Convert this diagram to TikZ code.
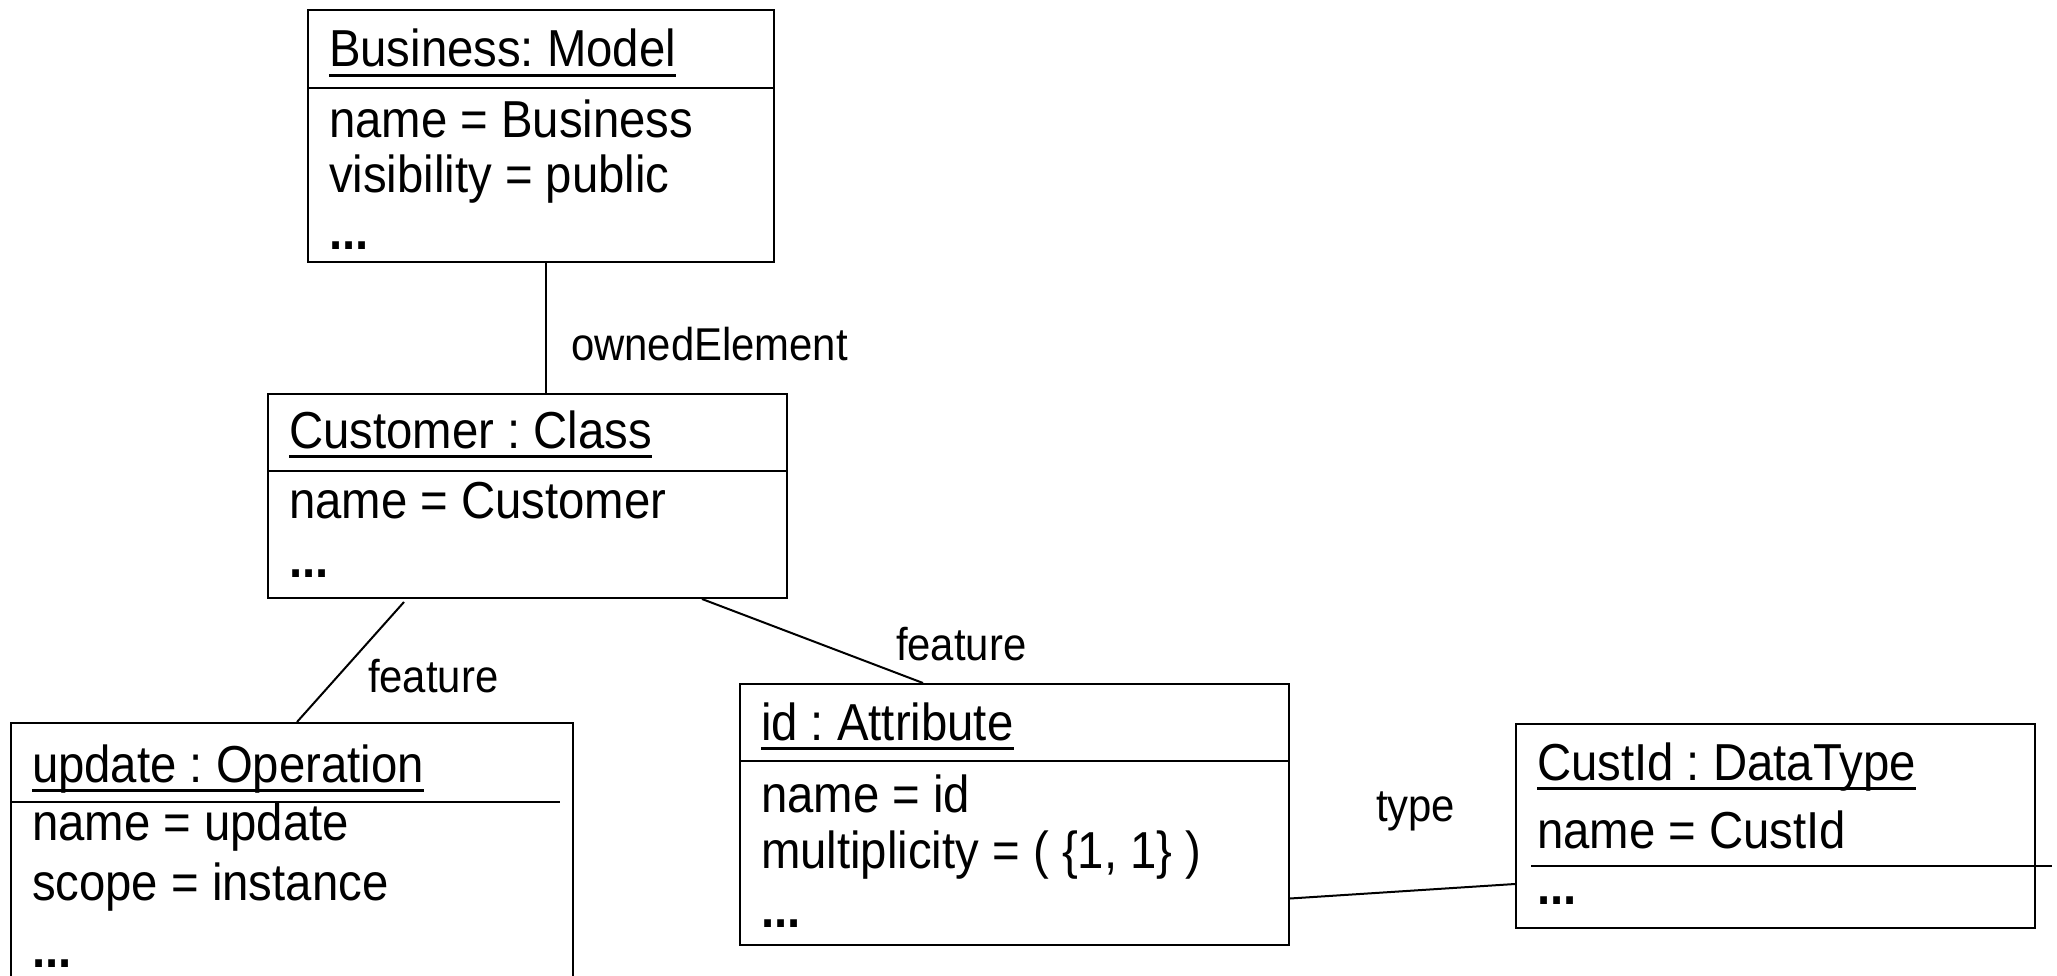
\documentclass[tikz,border=0pt]{standalone}
\usepackage{fontspec}
\setmainfont[FakeStretch=0.91]{Liberation Sans}
\usepackage{tikz}
\usetikzlibrary{positioning}
\frenchspacing

% underlined object name, heavy rule as in the original
\newcommand{\objname}[1]{\setbox0=\hbox{#1}\rlap{\rule[-10pt]{\wd0}{3pt}}\box0}

\begin{document}
\begin{tikzpicture}[x=1pt, y=-1pt, line width=2pt,
            objbox/.style={draw, rectangle, anchor=north west, inner sep=0pt},
            field/.style={anchor=base west, inner sep=0pt,
            font=\fontsize{52}{60}\selectfont},
            role/.style={anchor=base west, inner sep=0pt,
            font=\fontsize{46}{54}\selectfont}]
          \useasboundingbox (0,0) rectangle (2057,976);
          \clip (0,0) rectangle (2057,976);
          % Business: Model
          \node[objbox, minimum width=466pt, minimum height=252pt] (model) at (307,9) {};
          \node[field] (model-t) at (328,67) {\objname{Business: Model}};
          \draw (model.west |- 0,88) -- (model.east |- 0,88);
          \node[field] (model-1) at (328,138) {name = Business};
          \node[field] (model-2) at (328,193) {visibility = public};
          \node[field] (model-3) at (328,250) {\textbf{...}};
          % Customer : Class
          \node[objbox, minimum width=519pt, minimum height=204pt] (class) at (267,393) {};
          \node[field] (class-t) at (288,448) {\objname{Customer : Class}};
          \draw (class.west |- 0,471) -- (class.east |- 0,471);
          \node[field] (class-1) at (288,518) {name = Customer};
          \node[field] (class-2) at (288,577) {\textbf{...}};
          % update : Operation
          \node[objbox, minimum width=562pt, minimum height=300pt] (oper) at (10,722) {};
          \node[field] (oper-t) at (31,782) {\objname{update : Operation}};
          \draw (oper.west |- 0,802) -- (560,802);
          \node[field] (oper-1) at (31,840) {name = update};
          \node[field] (oper-2) at (31,900) {scope = instance};
          \node[field] (oper-3) at (31,967) {\textbf{...}};
          % id : Attribute
          \node[objbox, minimum width=549pt, minimum height=261pt] (attr) at (739,683) {};
          \node[field] (attr-t) at (760,740) {\objname{id : Attribute}};
          \draw (attr.west |- 0,761) -- (attr.east |- 0,761);
          \node[field] (attr-1) at (760,812) {name = id};
          \node[field] (attr-2) at (760,868) {multiplicity = ( \{1, 1\} )};
          \node[field] (attr-3) at (760,927) {\textbf{...}};
          % CustId : DataType
          \node[objbox, minimum width=519pt, minimum height=204pt] (dtype) at (1515,723) {};
          \node[field] (dtype-t) at (1536,780) {\objname{CustId : DataType}};
          \node[field] (dtype-1) at (1536,848) {name = CustId};
          \draw (1531,866) -- (2052,866);
          \node[field] (dtype-2) at (1536,904) {\textbf{...}};
          % links
          \draw ([xshift=5pt]model.south) -- ([xshift=5pt]model.south |- class.north);
          \draw ([xshift=137pt,yshift=-3pt]class.south west) -- ([xshift=287pt]oper.north west);
          \draw ([xshift=435pt]class.south west) -- ([xshift=184pt]attr.north west);
          \draw ([yshift=-84pt]attr.east) -- ([yshift=-58pt]dtype.west);
          \node[role] (own) at (570,360) {ownedElement};
          \node[role] (feat-op) at (367,692) {feature};
          \node[role] (feat-at) at (895,660) {feature};
          \node[role] (type) at (1375,821) {type};
        \end{tikzpicture}
\end{document}
